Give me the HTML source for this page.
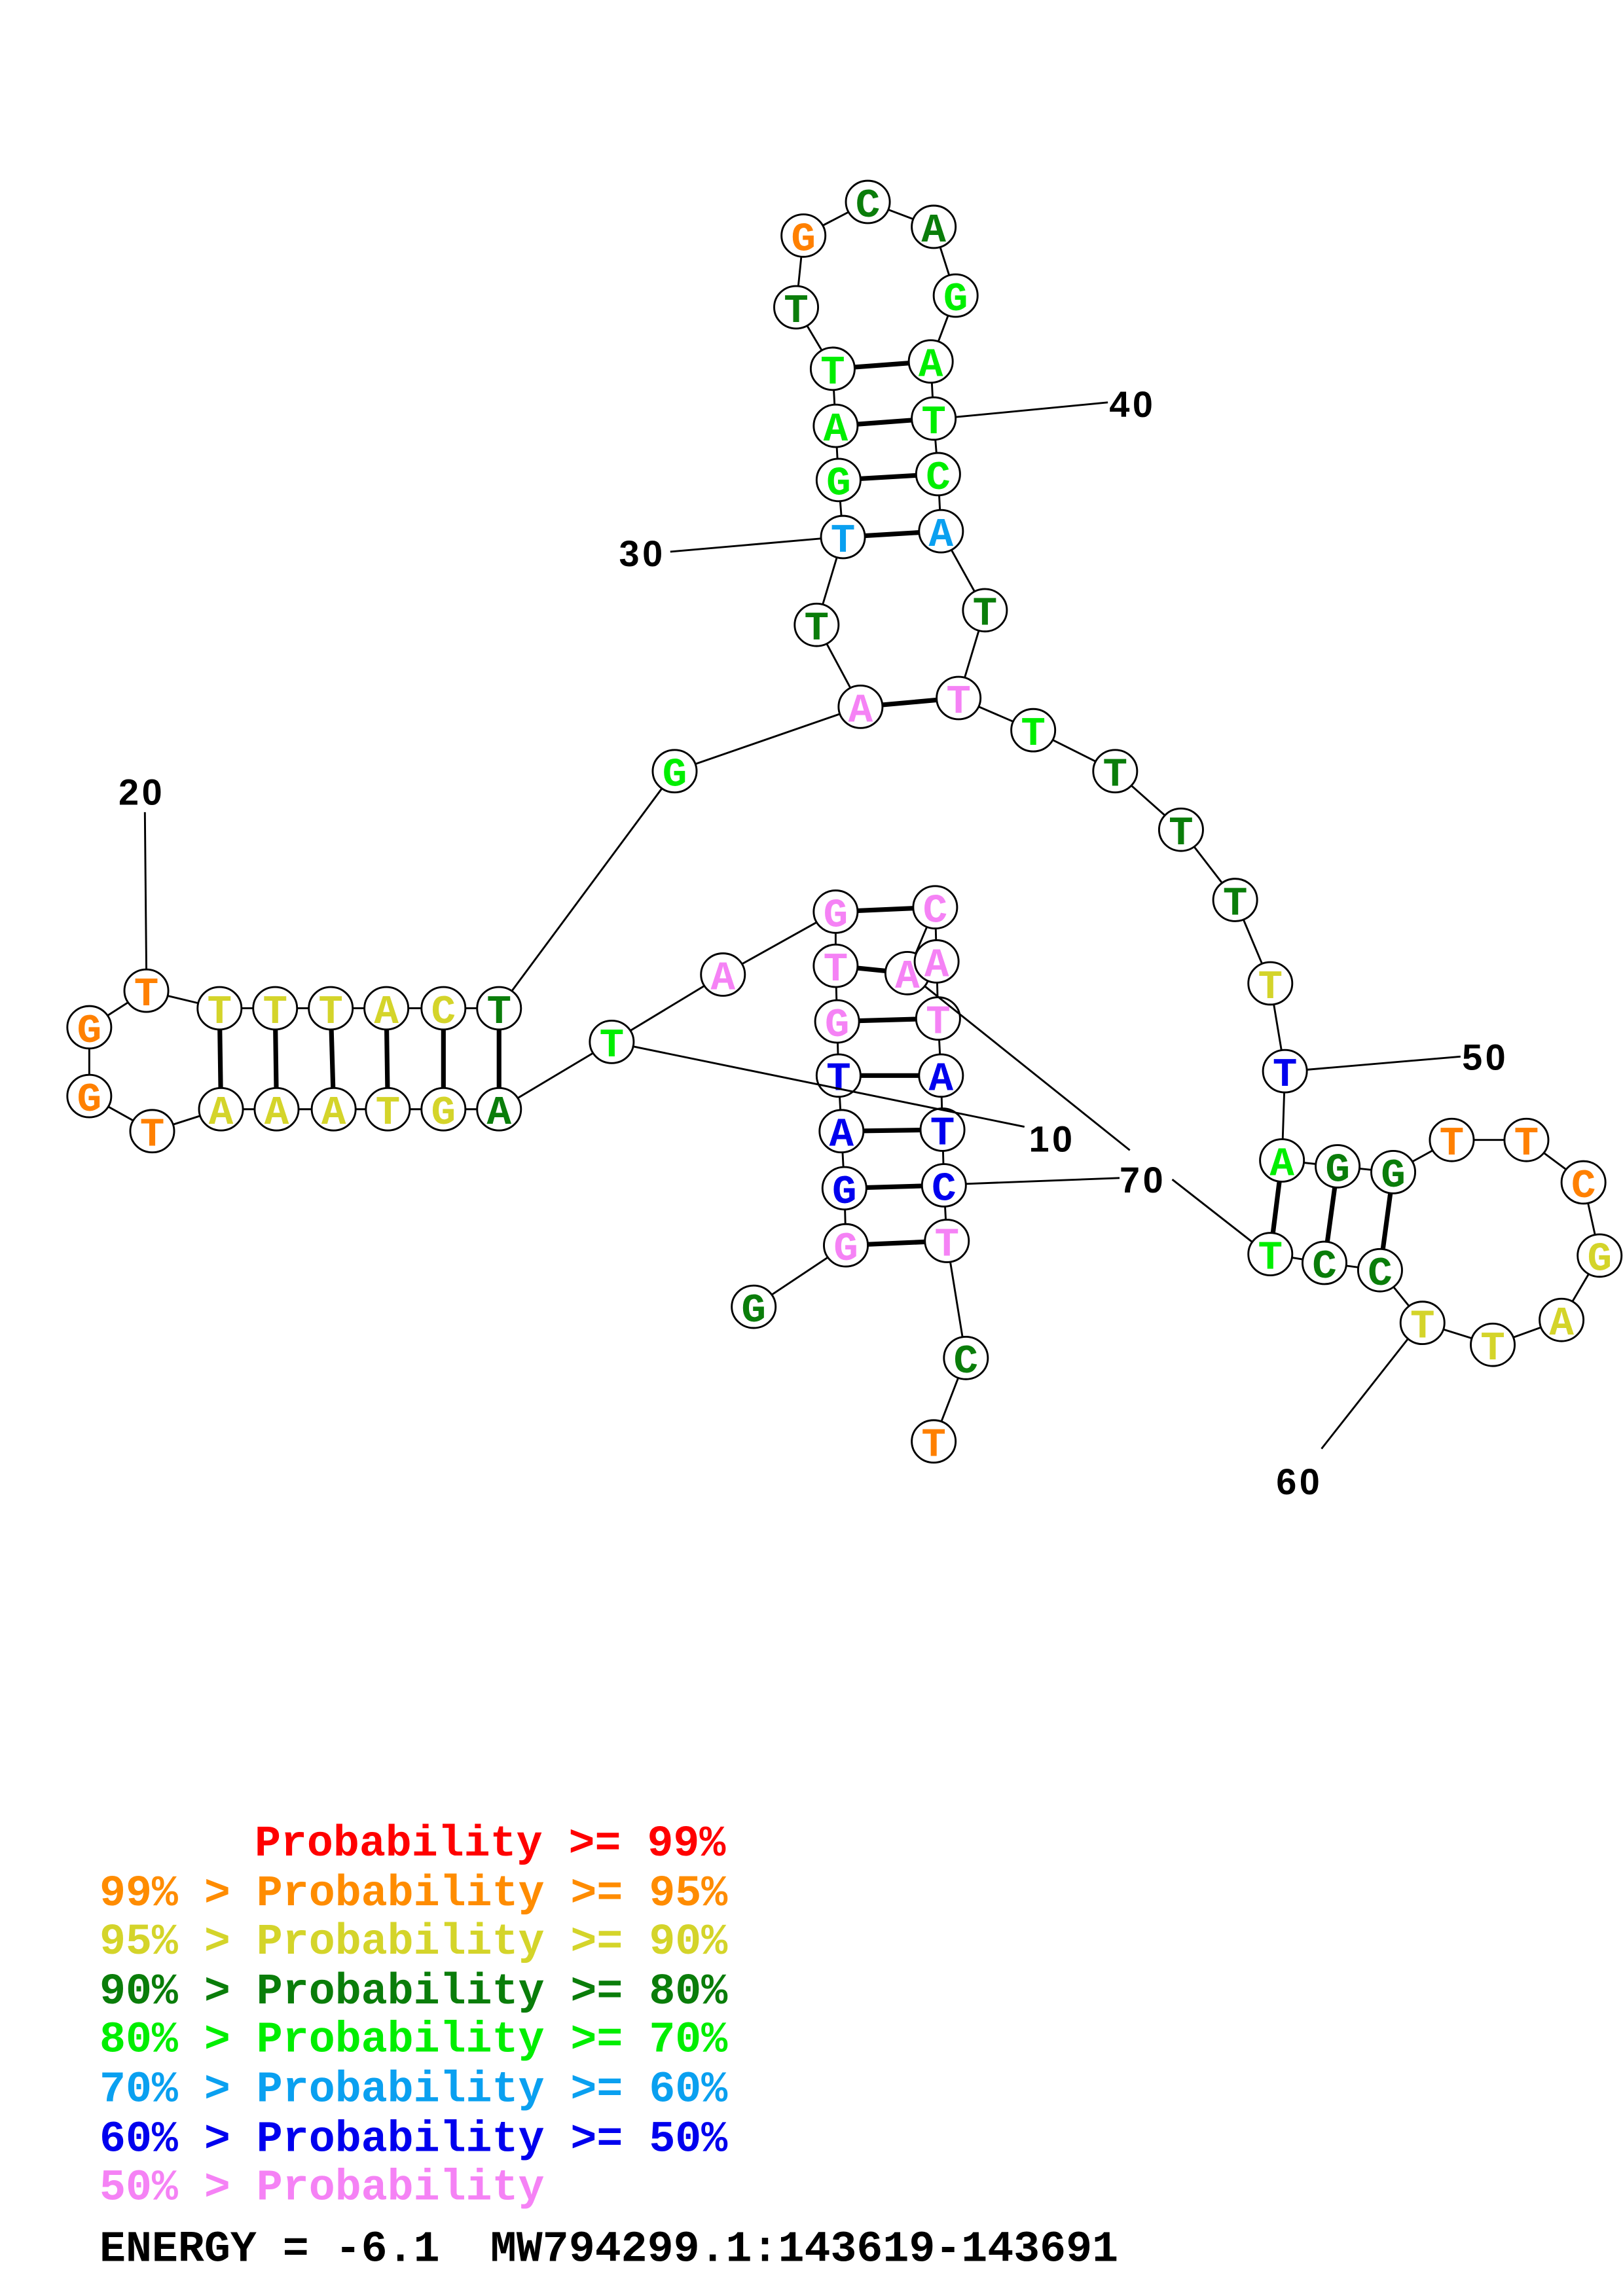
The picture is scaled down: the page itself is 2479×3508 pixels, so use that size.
<!DOCTYPE html>
<html><head><meta charset="utf-8"><style>
html,body{margin:0;padding:0;background:#fff;}
svg{display:block;}
.n{font-family:"Liberation Mono",monospace;font-weight:bold;font-size:28px;text-anchor:middle;}
.l{font-family:"Liberation Sans",sans-serif;font-weight:bold;font-size:25px;letter-spacing:2px;fill:#000;}
.g{font-family:"Liberation Mono",monospace;font-weight:bold;font-size:29.8px;}
</style></head><body>
<svg width="2479" height="3508" viewBox="0 0 1109 1569" preserveAspectRatio="none" xmlns="http://www.w3.org/2000/svg">
<rect width="1109" height="1569" fill="#fff"/>
<g stroke="#000" stroke-width="1.3" fill="none">
<polyline points="515,893 578,851 577,812 575,773 573,735 572,698 571,660 571,623 494,666 418,712 341,758 303,758 265,758 228,758 189,758 151,758 104,773 61,749 61,702 100,677 150,689 188,689 226,689 264,689 303,689 341,689 461,527 588,483 558,427 576,367 573,328 571,291 569,252 544,210 549,161 593,138 638,155 653,202 636,247 638,286 641,324 643,363 673,417 655,477 706,499 762,527 807,567 844,615 868,672 878,732 876,793 914,797 952,801 992,779 1043,779 1082,808 1093,858 1067,902 1020,919 972,904 943,868 905,863 868,857"/>
<polyline points="620,665 639,620 640,657 641,696 643,735 644,772 645,810 647,848 660,928 638,985"/>
</g>
<g stroke="#000" stroke-width="3.2">
<line x1="578" y1="851" x2="647" y2="848"/><line x1="577" y1="812" x2="645" y2="810"/>
<line x1="575" y1="773" x2="644" y2="772"/><line x1="573" y1="735" x2="643" y2="735"/>
<line x1="572" y1="698" x2="641" y2="696"/><line x1="571" y1="660" x2="620" y2="665"/>
<line x1="571" y1="623" x2="639" y2="620"/>
<line x1="341" y1="758" x2="341" y2="689"/><line x1="303" y1="758" x2="303" y2="689"/>
<line x1="265" y1="758" x2="264" y2="689"/><line x1="228" y1="758" x2="226" y2="689"/>
<line x1="189" y1="758" x2="188" y2="689"/><line x1="151" y1="758" x2="150" y2="689"/>
<line x1="588" y1="483" x2="655" y2="477"/><line x1="576" y1="367" x2="643" y2="363"/>
<line x1="573" y1="328" x2="641" y2="324"/><line x1="571" y1="291" x2="638" y2="286"/>
<line x1="569" y1="252" x2="636" y2="247"/>
<line x1="876" y1="793" x2="868" y2="857"/><line x1="914" y1="797" x2="905" y2="863"/>
<line x1="952" y1="801" x2="943" y2="868"/>
</g>
<g fill="#fff" stroke="#000" stroke-width="1.3">
<ellipse cx="515" cy="893" rx="15" ry="14.5"/><ellipse cx="578" cy="851" rx="15" ry="14.5"/><ellipse cx="577" cy="812" rx="15" ry="14.5"/><ellipse cx="575" cy="773" rx="15" ry="14.5"/><ellipse cx="573" cy="735" rx="15" ry="14.5"/><ellipse cx="572" cy="698" rx="15" ry="14.5"/><ellipse cx="571" cy="660" rx="15" ry="14.5"/><ellipse cx="571" cy="623" rx="15" ry="14.5"/><ellipse cx="494" cy="666" rx="15" ry="14.5"/><ellipse cx="418" cy="712" rx="15" ry="14.5"/>
<ellipse cx="341" cy="758" rx="15" ry="14.5"/><ellipse cx="303" cy="758" rx="15" ry="14.5"/><ellipse cx="265" cy="758" rx="15" ry="14.5"/><ellipse cx="228" cy="758" rx="15" ry="14.5"/><ellipse cx="189" cy="758" rx="15" ry="14.5"/><ellipse cx="151" cy="758" rx="15" ry="14.5"/><ellipse cx="104" cy="773" rx="15" ry="14.5"/><ellipse cx="61" cy="749" rx="15" ry="14.5"/><ellipse cx="61" cy="702" rx="15" ry="14.5"/><ellipse cx="100" cy="677" rx="15" ry="14.5"/>
<ellipse cx="150" cy="689" rx="15" ry="14.5"/><ellipse cx="188" cy="689" rx="15" ry="14.5"/><ellipse cx="226" cy="689" rx="15" ry="14.5"/><ellipse cx="264" cy="689" rx="15" ry="14.5"/><ellipse cx="303" cy="689" rx="15" ry="14.5"/><ellipse cx="341" cy="689" rx="15" ry="14.5"/><ellipse cx="461" cy="527" rx="15" ry="14.5"/><ellipse cx="588" cy="483" rx="15" ry="14.5"/><ellipse cx="558" cy="427" rx="15" ry="14.5"/><ellipse cx="576" cy="367" rx="15" ry="14.5"/>
<ellipse cx="573" cy="328" rx="15" ry="14.5"/><ellipse cx="571" cy="291" rx="15" ry="14.5"/><ellipse cx="569" cy="252" rx="15" ry="14.5"/><ellipse cx="544" cy="210" rx="15" ry="14.5"/><ellipse cx="549" cy="161" rx="15" ry="14.5"/><ellipse cx="593" cy="138" rx="15" ry="14.5"/><ellipse cx="638" cy="155" rx="15" ry="14.5"/><ellipse cx="653" cy="202" rx="15" ry="14.5"/><ellipse cx="636" cy="247" rx="15" ry="14.5"/><ellipse cx="638" cy="286" rx="15" ry="14.5"/>
<ellipse cx="641" cy="324" rx="15" ry="14.5"/><ellipse cx="643" cy="363" rx="15" ry="14.5"/><ellipse cx="673" cy="417" rx="15" ry="14.5"/><ellipse cx="655" cy="477" rx="15" ry="14.5"/><ellipse cx="706" cy="499" rx="15" ry="14.5"/><ellipse cx="762" cy="527" rx="15" ry="14.5"/><ellipse cx="807" cy="567" rx="15" ry="14.5"/><ellipse cx="844" cy="615" rx="15" ry="14.5"/><ellipse cx="868" cy="672" rx="15" ry="14.5"/><ellipse cx="878" cy="732" rx="15" ry="14.5"/>
<ellipse cx="876" cy="793" rx="15" ry="14.5"/><ellipse cx="914" cy="797" rx="15" ry="14.5"/><ellipse cx="952" cy="801" rx="15" ry="14.5"/><ellipse cx="992" cy="779" rx="15" ry="14.5"/><ellipse cx="1043" cy="779" rx="15" ry="14.5"/><ellipse cx="1082" cy="808" rx="15" ry="14.5"/><ellipse cx="1093" cy="858" rx="15" ry="14.5"/><ellipse cx="1067" cy="902" rx="15" ry="14.5"/><ellipse cx="1020" cy="919" rx="15" ry="14.5"/><ellipse cx="972" cy="904" rx="15" ry="14.5"/>
<ellipse cx="943" cy="868" rx="15" ry="14.5"/><ellipse cx="905" cy="863" rx="15" ry="14.5"/><ellipse cx="868" cy="857" rx="15" ry="14.5"/><ellipse cx="620" cy="665" rx="15" ry="14.5"/><ellipse cx="639" cy="620" rx="15" ry="14.5"/><ellipse cx="640" cy="657" rx="15" ry="14.5"/><ellipse cx="641" cy="696" rx="15" ry="14.5"/><ellipse cx="643" cy="735" rx="15" ry="14.5"/><ellipse cx="644" cy="772" rx="15" ry="14.5"/><ellipse cx="645" cy="810" rx="15" ry="14.5"/>
<ellipse cx="647" cy="848" rx="15" ry="14.5"/><ellipse cx="660" cy="928" rx="15" ry="14.5"/><ellipse cx="638" cy="985" rx="15" ry="14.5"/>
</g>
<g class="n">
<text x="515" y="903" fill="#0a7d0a">G</text><text x="578" y="861" fill="#f582f5">G</text><text x="577" y="822" fill="#0000ee">G</text><text x="575" y="783" fill="#0000ee">A</text><text x="573" y="745" fill="#0000ee">T</text><text x="572" y="708" fill="#f582f5">G</text><text x="571" y="670" fill="#f582f5">T</text><text x="571" y="633" fill="#f582f5">G</text><text x="494" y="676" fill="#f582f5">A</text><text x="418" y="722" fill="#00ee00">T</text>
<text x="341" y="768" fill="#0a7d0a">A</text><text x="303" y="768" fill="#d4d42a">G</text><text x="265" y="768" fill="#d4d42a">T</text><text x="228" y="768" fill="#d4d42a">A</text><text x="189" y="768" fill="#d4d42a">A</text><text x="151" y="768" fill="#d4d42a">A</text><text x="104" y="783" fill="#ff8000">T</text><text x="61" y="759" fill="#ff8000">G</text><text x="61" y="712" fill="#ff8000">G</text><text x="100" y="687" fill="#ff8000">T</text>
<text x="150" y="699" fill="#d4d42a">T</text><text x="188" y="699" fill="#d4d42a">T</text><text x="226" y="699" fill="#d4d42a">T</text><text x="264" y="699" fill="#d4d42a">A</text><text x="303" y="699" fill="#d4d42a">C</text><text x="341" y="699" fill="#0a7d0a">T</text><text x="461" y="537" fill="#00ee00">G</text><text x="588" y="493" fill="#f582f5">A</text><text x="558" y="437" fill="#0a7d0a">T</text><text x="576" y="377" fill="#0aa0f0">T</text>
<text x="573" y="338" fill="#00ee00">G</text><text x="571" y="301" fill="#00ee00">A</text><text x="569" y="262" fill="#00ee00">T</text><text x="544" y="220" fill="#0a7d0a">T</text><text x="549" y="171" fill="#ff8000">G</text><text x="593" y="148" fill="#0a7d0a">C</text><text x="638" y="165" fill="#0a7d0a">A</text><text x="653" y="212" fill="#00ee00">G</text><text x="636" y="257" fill="#00ee00">A</text><text x="638" y="296" fill="#00ee00">T</text>
<text x="641" y="334" fill="#00ee00">C</text><text x="643" y="373" fill="#0aa0f0">A</text><text x="673" y="427" fill="#0a7d0a">T</text><text x="655" y="487" fill="#f582f5">T</text><text x="706" y="509" fill="#00ee00">T</text><text x="762" y="537" fill="#0a7d0a">T</text><text x="807" y="577" fill="#0a7d0a">T</text><text x="844" y="625" fill="#0a7d0a">T</text><text x="868" y="682" fill="#d4d42a">T</text><text x="878" y="742" fill="#0000ee">T</text>
<text x="876" y="803" fill="#00ee00">A</text><text x="914" y="807" fill="#0a7d0a">G</text><text x="952" y="811" fill="#0a7d0a">G</text><text x="992" y="789" fill="#ff8000">T</text><text x="1043" y="789" fill="#ff8000">T</text><text x="1082" y="818" fill="#ff8000">C</text><text x="1093" y="868" fill="#d4d42a">G</text><text x="1067" y="912" fill="#d4d42a">A</text><text x="1020" y="929" fill="#d4d42a">T</text><text x="972" y="914" fill="#d4d42a">T</text>
<text x="943" y="878" fill="#0a7d0a">C</text><text x="905" y="873" fill="#0a7d0a">C</text><text x="868" y="867" fill="#00ee00">T</text><text x="620" y="675" fill="#f582f5">A</text><text x="639" y="630" fill="#f582f5">C</text><text x="640" y="667" fill="#f582f5">A</text><text x="641" y="706" fill="#f582f5">T</text><text x="643" y="745" fill="#0000ee">A</text><text x="644" y="782" fill="#0000ee">T</text><text x="645" y="820" fill="#0000ee">C</text>
<text x="647" y="858" fill="#f582f5">T</text><text x="660" y="938" fill="#0a7d0a">C</text><text x="638" y="995" fill="#ff8000">T</text>
</g>
<g stroke="#000" stroke-width="1.3">
<line x1="432" y1="715" x2="700" y2="770"/>
<line x1="100" y1="662" x2="99" y2="555"/>
<line x1="458" y1="377" x2="561" y2="368"/>
<line x1="653" y1="285" x2="757" y2="275"/>
<line x1="893" y1="731" x2="998" y2="722"/>
<line x1="962" y1="915" x2="903" y2="990"/>
<line x1="660" y1="809" x2="765" y2="805"/>
<line x1="632" y1="674" x2="772" y2="786"/>
<line x1="801" y1="806" x2="856" y2="849"/>
</g>
<g class="l">
<text x="703" y="787">10</text>
<text x="81" y="550">20</text>
<text x="423" y="387">30</text>
<text x="758" y="285">40</text>
<text x="999" y="731">50</text>
<text x="872" y="1021">60</text>
<text x="765" y="815">70</text>
</g>
<g class="g">
<text x="174" y="1268" fill="#ff0000">Probability &gt;= 99%</text>
<text x="68" y="1302" fill="#ff8c00">99% &gt; Probability &gt;= 95%</text>
<text x="68" y="1335" fill="#d4d42a">95% &gt; Probability &gt;= 90%</text>
<text x="68" y="1369" fill="#0a7d0a">90% &gt; Probability &gt;= 80%</text>
<text x="68" y="1402" fill="#00ee00">80% &gt; Probability &gt;= 70%</text>
<text x="68" y="1436" fill="#0aa0f0">70% &gt; Probability &gt;= 60%</text>
<text x="68" y="1470" fill="#0000ee">60% &gt; Probability &gt;= 50%</text>
<text x="68" y="1503" fill="#f582f5">50% &gt; Probability</text>
<text x="68" y="1545" fill="#000">ENERGY = -6.1</text>
<text x="335" y="1545" fill="#000">MW794299.1:143619-143691</text>
</g>
</svg>
</body></html>
